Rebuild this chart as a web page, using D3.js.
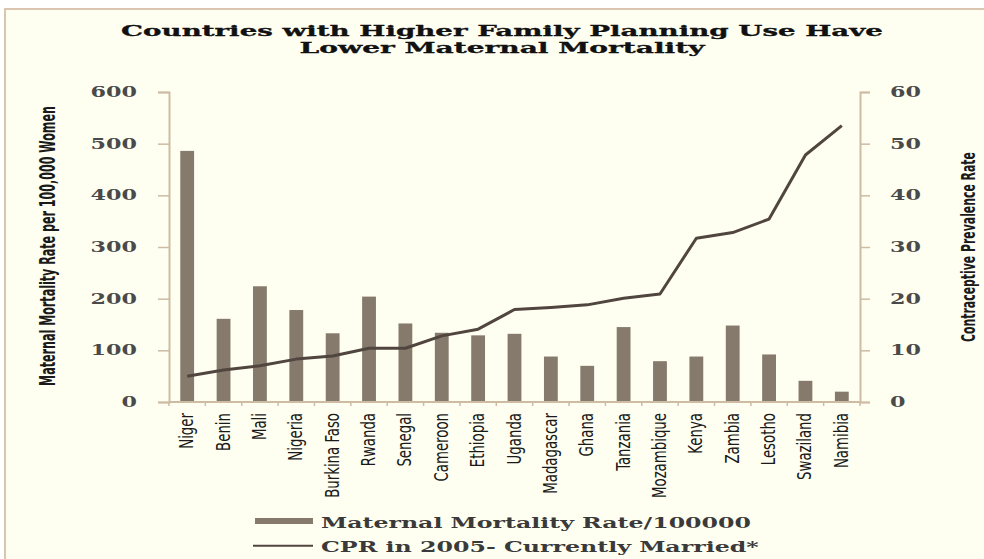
<!DOCTYPE html>
<html>
<head>
<meta charset="utf-8">
<script src="https://cdn.jsdelivr.net/npm/d3@7"></script>
<style>
  html, body { margin: 0; padding: 0; background: #ffffff; }
  svg { display: block; }
  .tick-label { font-family: "DejaVu Serif", serif; font-weight: bold; fill: #4a4a4a; }
  .cond { font-family: "Liberation Sans Narrow", "DejaVu Sans Condensed", "Roboto", sans-serif; fill: #1a1a1a; }
</style>
</head>
<body>
<div id="chart"></div>
<script>
// Data
const countries = ['Niger', 'Benin', 'Mali', 'Nigeria', 'Burkina Faso', 'Rwanda', 'Senegal',
  'Cameroon', 'Ethiopia', 'Uganda', 'Madagascar', 'Ghana', 'Tanzania', 'Mozambique',
  'Kenya', 'Zambia', 'Lesotho', 'Swaziland', 'Namibia'];
const mortality = [486, 161, 224, 178, 133, 204, 152, 134, 129, 132, 88, 70, 145, 79, 88, 148, 92, 41, 20];
const cpr = [5.0, 6.2, 7.0, 8.3, 8.9, 10.4, 10.4, 12.8, 14.1, 17.9, 18.3, 18.8, 20.1, 20.9, 31.7, 32.8, 35.4, 47.8, 53.5];
const leftTicks = [0, 100, 200, 300, 400, 500, 600];
const rightTicks = [0, 10, 20, 30, 40, 50, 60];
const titleLines = ['Countries with Higher Family Planning Use Have', 'Lower Maternal Mortality'];
const legendItems = ['Maternal Mortality Rate/100000', 'CPR in 2005- Currently Married*'];

const width = 984, height = 559;
const margin = { top: 92, right: 124, bottom: 157, left: 169 };
const innerW = width - margin.left - margin.right;
const innerH = height - margin.top - margin.bottom;

const barColor = '#857a6b';
const lineColor = '#51463f';
const axisColor = '#cdbba3';

// squeeze or stretch a text along its own direction so it covers `target` px
function fitText(el, target, tx, ty, rot) {
  const natural = el.getComputedTextLength();
  const k = target / natural;
  d3.select(el).attr('transform',
    `translate(${tx},${ty})` + (rot ? ` rotate(${rot})` : '') + ` scale(${k},1)`);
}

const svg = d3.select('#chart').append('svg')
  .attr('width', width)
  .attr('height', height);

// panel background and frame
svg.append('rect')
  .attr('x', 5).attr('y', 9)
  .attr('width', width + 10).attr('height', height + 10)
  .attr('fill', '#fffff1')
  .attr('stroke', '#dac6ae')
  .attr('stroke-width', 2);

const chart = svg.append('g')
  .attr('transform', `translate(${margin.left},${margin.top})`);

const x = d3.scaleBand().domain(countries).range([0, innerW]).paddingInner(0.62).paddingOuter(0.31);
const yLeft = d3.scaleLinear().domain([0, 600]).range([innerH, 0]);
const yRight = d3.scaleLinear().domain([0, 60]).range([innerH, 0]);

// left axis
const leftAxis = chart.append('g')
  .call(d3.axisLeft(yLeft).tickValues(leftTicks).tickSize(11).tickFormat(d3.format('d')));
// right axis
const rightAxis = chart.append('g')
  .attr('transform', `translate(${innerW},0)`)
  .call(d3.axisRight(yRight).tickValues(rightTicks).tickSize(10).tickFormat(d3.format('d')));

[[leftAxis, -32], [rightAxis, 30]].forEach(([a, off]) => {
  a.select('.domain').attr('stroke', axisColor).attr('stroke-width', 2);
  a.selectAll('.tick line').attr('stroke', axisColor).attr('stroke-width', 1.5);
  a.selectAll('.tick text')
    .attr('class', 'tick-label')
    .attr('font-size', 14)
    .attr('x', 0)
    .each(function (d) { fitText(this, String(d).length * 15.5, off, 0); });
});

// bars
chart.selectAll('.bar')
  .data(countries)
  .join('rect')
  .attr('class', 'bar')
  .attr('x', d => x(d))
  .attr('width', x.bandwidth())
  .attr('y', (d, i) => yLeft(mortality[i]))
  .attr('height', (d, i) => innerH - yLeft(mortality[i]))
  .attr('fill', barColor);

// x axis with ticks between categories
const step = x.step();
const xAxis = chart.append('g').attr('transform', `translate(0,${innerH})`);
xAxis.append('line')
  .attr('x1', 0).attr('x2', innerW)
  .attr('stroke', axisColor).attr('stroke-width', 2);
xAxis.selectAll('.xtick')
  .data(d3.range(countries.length + 1))
  .join('line')
  .attr('x1', i => i * step).attr('x2', i => i * step)
  .attr('y1', 0).attr('y2', 4)
  .attr('stroke', axisColor).attr('stroke-width', 1.5);
xAxis.selectAll('.xlabel')
  .data(countries)
  .join('text')
  .attr('class', 'cond')
  .attr('font-size', 19)
  .attr('text-anchor', 'end')
  .text(d => d)
  .each(function (d) {
    const len = this.getComputedTextLength() * 0.78;
    fitText(this, len, x(d) + x.bandwidth() / 2 + 6, 11, -90);
  });

// CPR line
const line = d3.line()
  .x((d, i) => x(countries[i]) + x.bandwidth() / 2)
  .y(d => yRight(d));
chart.append('path')
  .datum(cpr)
  .attr('d', line)
  .attr('fill', 'none')
  .attr('stroke', lineColor)
  .attr('stroke-width', 3)
  .attr('stroke-linejoin', 'round');

// axis titles
svg.append('text')
  .attr('class', 'cond')
  .attr('font-size', 21)
  .attr('font-weight', 'bold')
  .attr('text-anchor', 'middle')
  .text('Maternal Mortality Rate per 100,000 Women')
  .each(function () { fitText(this, 280, 55, 246, -90); });

svg.append('text')
  .attr('class', 'cond')
  .attr('font-size', 20)
  .attr('font-weight', 'bold')
  .attr('text-anchor', 'middle')
  .text('Contraceptive Prevalence Rate')
  .each(function () { fitText(this, 190, 975, 247, -90); });

// title
const titleLengths = [762, 405];
svg.selectAll('.title')
  .data(titleLines)
  .join('text')
  .attr('class', 'title')
  .attr('text-anchor', 'middle')
  .attr('font-family', '"DejaVu Serif", serif')
  .attr('font-weight', 'bold')
  .attr('font-size', 15)
  .attr('fill', '#111')
  .attr('stroke', '#111')
  .attr('stroke-width', 0.3)
  .text(d => d)
  .each(function (d, i) { fitText(this, titleLengths[i], width / 2 + 10, 36 + i * 17); });

// legend
const legend = svg.append('g').attr('transform', 'translate(255,521)');
legend.append('rect')
  .attr('x', 0).attr('y', -3)
  .attr('width', 58).attr('height', 6)
  .attr('fill', barColor);
legend.append('line')
  .attr('x1', -2).attr('x2', 58)
  .attr('y1', 24.7).attr('y2', 24.7)
  .attr('stroke', lineColor).attr('stroke-width', 2);
const legendLengths = [430, 438];
legend.selectAll('.legend-label')
  .data(legendItems)
  .join('text')
  .attr('class', 'legend-label')
  .attr('dy', '.35em')
  .attr('font-family', '"DejaVu Serif", serif')
  .attr('font-weight', 'bold')
  .attr('font-size', 15)
  .attr('fill', '#3a3a3a')
  .text(d => d)
  .each(function (d, i) { fitText(this, legendLengths[i], 66, 2 + i * 24); });
</script>
</body>
</html>
